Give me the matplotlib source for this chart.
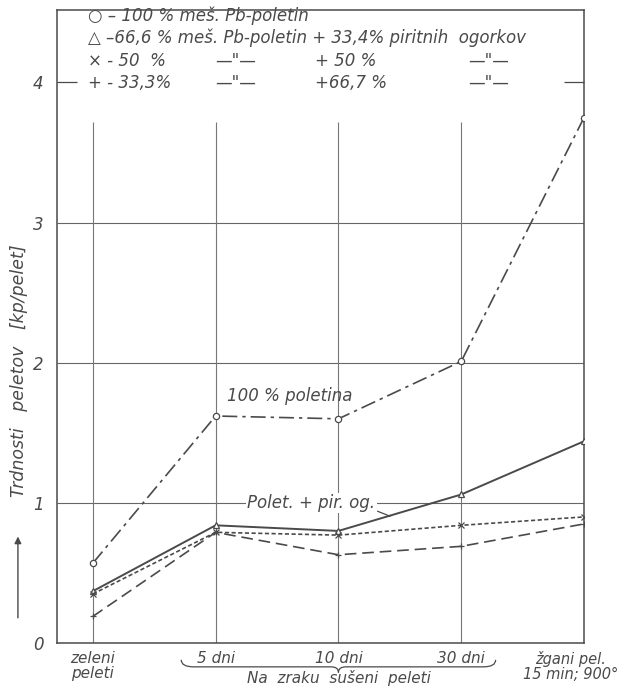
import matplotlib.pyplot as plt
from matplotlib.path import Path
from matplotlib.patches import PathPatch

# categories on x axis
categories = [0, 1, 2, 3, 4]
cat_labels = ["zeleni\npeleti", "5 dni", "10 dni", "30 dni", "žgani pel.\n15 min; 900°"]

# strength values [kp/pelet]
poletin_100 = [0.57, 1.62, 1.60, 2.01, 3.75]     # 100 % poletin, dash-dot, circles
poletin_666 = [0.37, 0.84, 0.80, 1.06, 1.44]     # 66,6 % + 33,4 % pir. og., solid, triangles
poletin_50 = [0.35, 0.79, 0.77, 0.84, 0.90]      # 50 % + 50 %, dotted, x
poletin_333 = [0.19, 0.79, 0.63, 0.69, 0.85]     # 33,3 % + 66,7 %, dashed, +

yticks = [0, 1, 2, 3, 4]

ink = "#4a4a4a"
plt.rcParams['font.family'] = ['DejaVu Sans']
plt.rcParams['font.style'] = 'italic'

fig = plt.figure(figsize=(6.22, 6.87), dpi=100)
ax = fig.add_axes([0.092, 0.064, 0.847, 0.922])
ax.set_xlim(-0.29, 4.0)
ax.set_ylim(0, 4.52)

for s in ax.spines.values():
    s.set_color(ink)
    s.set_linewidth(1.1)

# grid
ax.hlines([1, 2, 3], -0.29, 4.0, color="#666", lw=0.8, zorder=1)
ax.vlines(categories[:-1], 0, 3.72, color="#777", lw=0.8, zorder=1)
ax.hlines(4, -0.29, -0.13, color=ink, lw=0.9, clip_on=False)
ax.hlines(4, 3.84, 4.0, color=ink, lw=0.9, clip_on=False)

lw = 1.2
ax.plot(categories, poletin_100, color=ink, lw=lw, dashes=(9, 3, 2, 3),
        marker="o", ms=4.5, mfc="white", mec=ink, mew=0.9, zorder=3)
ax.plot(categories, poletin_666, color=ink, lw=lw + 0.2,
        marker="^", ms=5, mfc="white", mec=ink, mew=0.9, zorder=3)
ax.plot(categories, poletin_50, color=ink, lw=lw, dashes=(2.5, 1.5),
        marker="x", ms=4, mec=ink, mew=0.9, zorder=3)
ax.plot(categories, poletin_333, color=ink, lw=lw, dashes=(7, 3.5),
        marker="+", ms=5, mec=ink, mew=0.9, zorder=3)

# ticks
ax.set_xticks([])
ax.set_yticks(yticks)
ax.set_yticklabels([str(v) for v in yticks], fontsize=12, color=ink)
ax.tick_params(axis="y", length=0, pad=10)

ax.text(-0.6, 1.94, "Trdnosti   peletov   [kp/pelet]", rotation=90, ha="center",
        va="center", fontsize=12.5, color=ink, clip_on=False)
ax.annotate("", xy=(-0.61, 0.78), xytext=(-0.61, 0.16), xycoords="data",
            arrowprops=dict(arrowstyle="-|>", color=ink, lw=1.0), annotation_clip=False)

# x category labels
for x, lab in zip(categories, cat_labels):
    if x == 0:
        ax.text(x, -0.06, lab, ha="center", va="top", fontsize=11, color=ink,
                linespacing=0.95, clip_on=False)
    elif x == 4:
        ax.text(3.89, -0.06, lab, ha="center", va="top", fontsize=10.5, color=ink,
                linespacing=0.95, clip_on=False)
    else:
        ax.text(x, -0.06, lab, ha="center", va="top", fontsize=11, color=ink, clip_on=False)

# curly brace under drying days
x0, x1, xm = 0.72, 3.28, 2.0
yt, yb = -0.12, -0.17
verts = [(x0, yt), (x0, yb), (x0 + 0.1, yb), (xm - 0.06, yb), (xm, yb), (xm, yb - 0.04),
         (xm, yb), (xm + 0.06, yb), (x1 - 0.1, yb), (x1, yb), (x1, yt)]
codes = [Path.MOVETO, Path.CURVE3, Path.CURVE3, Path.LINETO, Path.CURVE3, Path.CURVE3,
         Path.CURVE3, Path.CURVE3, Path.LINETO, Path.CURVE3, Path.CURVE3]
ax.add_patch(PathPatch(Path(verts, codes), fill=False, ec=ink, lw=0.9, clip_on=False))
ax.text(xm, -0.195, "Na  zraku  sušeni  peleti", ha="center", va="top", fontsize=11,
        color=ink, clip_on=False)

# curve annotations
ax.text(1.6, 1.76, "100 % poletina", ha="center", va="center", fontsize=12, color=ink)
ax.text(1.78, 1.0, "Polet. + pir. og.", ha="center", va="center", fontsize=12, color=ink,
        bbox=dict(fc="white", ec="none", pad=1), zorder=2)
ax.plot([2.32, 2.42], [0.94, 0.905], color=ink, lw=0.9, zorder=2)

# legend block
leg = dict(fontsize=12, color=ink, va="center", transform=ax.transAxes)
ax.text(0.058, 0.990, "○ – 100 % meš. Pb-poletin", **leg)
ax.text(0.058, 0.955, "△ –66,6 % meš. Pb-poletin + 33,4% piritnih  ogorkov", **leg)
ax.text(0.058, 0.919, "× - 50  %", **leg)
ax.text(0.30, 0.919, '—"—', **leg)
ax.text(0.49, 0.919, "+ 50 %", **leg)
ax.text(0.78, 0.919, '—"—', **leg)
ax.text(0.058, 0.884, "+ - 33,3%", **leg)
ax.text(0.30, 0.884, '—"—', **leg)
ax.text(0.49, 0.884, "+66,7 %", **leg)
ax.text(0.78, 0.884, '—"—', **leg)

fig.savefig("out.png", dpi=100, facecolor="white")
